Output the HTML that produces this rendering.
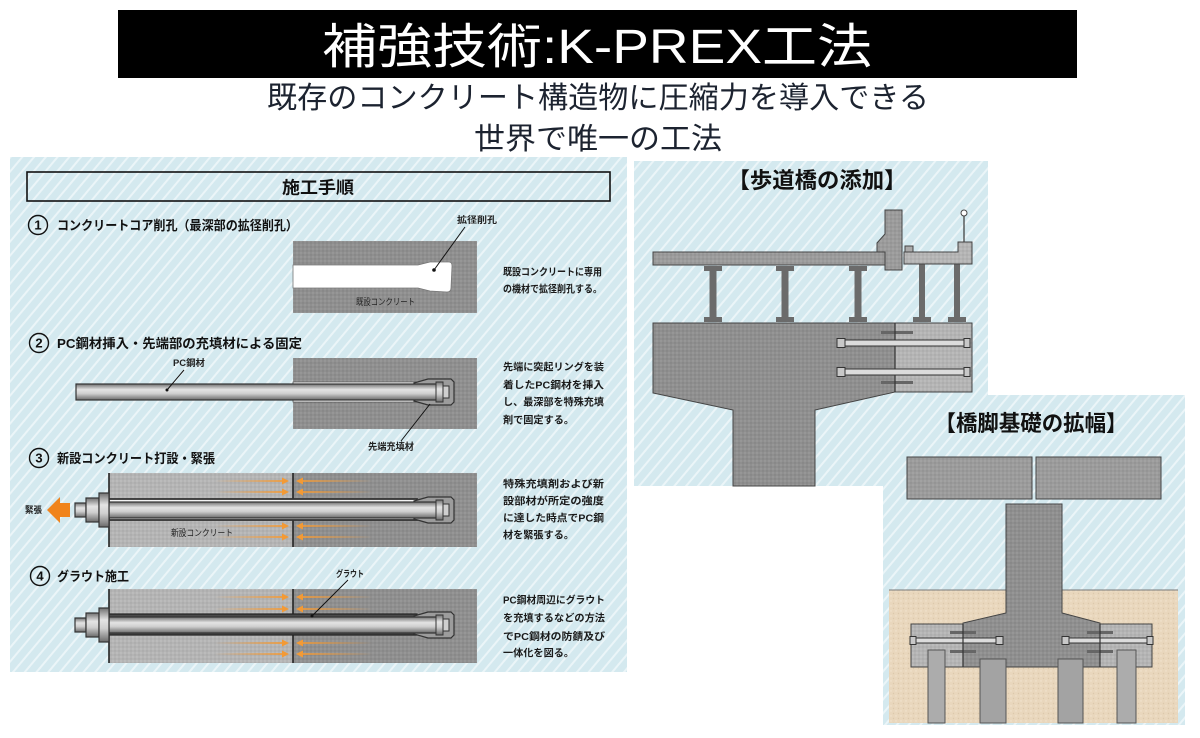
<!DOCTYPE html>
<html><head><meta charset="utf-8">
<style>
html,body{margin:0;padding:0;background:#fff;}
svg{display:block;}
text{font-family:"Liberation Sans","Noto Sans CJK JP",sans-serif;}
</style></head>
<body>
<svg width="1200" height="738" viewBox="0 0 1200 738" xmlns="http://www.w3.org/2000/svg">
<defs>
  <pattern id="st" width="9" height="9" patternUnits="userSpaceOnUse" patternTransform="rotate(40)">
    <rect width="9" height="9" fill="#d4e9ef"/>
    <rect x="0" width="2" height="9" fill="#ebf5f8"/>
  </pattern>
  <pattern id="pd" width="4" height="4" patternUnits="userSpaceOnUse">
    <rect width="4" height="4" fill="#8f8f8f"/>
    <circle cx="1" cy="1" r="0.7" fill="#a2a2a2"/>
    <circle cx="3" cy="3" r="0.7" fill="#7f7f7f"/>
  </pattern>
  <pattern id="pl" width="4" height="4" patternUnits="userSpaceOnUse">
    <rect width="4" height="4" fill="#b4b4b4"/>
    <circle cx="1" cy="1" r="0.7" fill="#c6c6c6"/>
    <circle cx="3" cy="3" r="0.7" fill="#a4a4a4"/>
  </pattern>
  <pattern id="pm" width="4" height="4" patternUnits="userSpaceOnUse">
    <rect width="4" height="4" fill="#9b9b9b"/>
    <circle cx="1" cy="1" r="0.7" fill="#adadad"/>
    <circle cx="3" cy="3" r="0.7" fill="#8b8b8b"/>
  </pattern>
  <pattern id="ps" width="5" height="5" patternUnits="userSpaceOnUse">
    <rect width="5" height="5" fill="#e9d7bd"/>
    <circle cx="1" cy="1" r="0.7" fill="#f3e6d2"/>
    <circle cx="3.5" cy="3.5" r="0.7" fill="#dcc8ab"/>
  </pattern>
  <linearGradient id="rod" x1="0" y1="0" x2="0" y2="1">
    <stop offset="0" stop-color="#707070"/>
    <stop offset="0.35" stop-color="#e4e4e4"/>
    <stop offset="0.6" stop-color="#cfcfcf"/>
    <stop offset="1" stop-color="#6a6a6a"/>
  </linearGradient>
  <linearGradient id="arR" gradientUnits="userSpaceOnUse" x1="215" y1="0" x2="288" y2="0">
    <stop offset="0" stop-color="#f39a35" stop-opacity="0"/>
    <stop offset="1" stop-color="#f39a35" stop-opacity="1"/>
  </linearGradient>
  <linearGradient id="arL" gradientUnits="userSpaceOnUse" x1="372" y1="0" x2="297" y2="0">
    <stop offset="0" stop-color="#f39a35" stop-opacity="0"/>
    <stop offset="1" stop-color="#f39a35" stop-opacity="1"/>
  </linearGradient>
  <g id="rodend">
    <polygon points="414,-9 428,-13 451,-13 454,-10 454,10 451,13 428,13 414,9" fill="#9c9c9c" stroke="#333" stroke-width="1.2"/>
    <rect x="436" y="-10" width="7" height="20" fill="url(#rod)" stroke="#333" stroke-width="1"/>
    <rect x="443" y="-6" width="6" height="12" fill="#cfcfcf" stroke="#333" stroke-width="1"/>
  </g>
  <g id="anchor">
    <rect x="75" y="-7" width="11" height="14" fill="url(#rod)" stroke="#333" stroke-width="1.2"/>
    <rect x="86" y="-12" width="13" height="24" fill="url(#rod)" stroke="#333" stroke-width="1.2"/>
    <rect x="99" y="-17" width="10" height="34" fill="url(#rod)" stroke="#333" stroke-width="1.2"/>
  </g>
  <g id="arrows2">
    <line x1="215" y1="0" x2="284" y2="0" stroke="url(#arR)" stroke-width="1.8"/>
    <polygon points="289,0 282,-3.5 282,3.5" fill="#f39a35"/>
    <line x1="372" y1="0" x2="301" y2="0" stroke="url(#arL)" stroke-width="1.8"/>
    <polygon points="296,0 303,-3.5 303,3.5" fill="#f39a35"/>
  </g>
  <g id="hrod">
    <rect x="-3" y="-3" width="130" height="6" fill="#dcdcdc" stroke="#333" stroke-width="1"/>
    <rect x="-4" y="-4.5" width="8" height="9" fill="#c8c8c8" stroke="#333" stroke-width="1"/>
    <rect x="123" y="-4.5" width="6" height="9" fill="#c8c8c8" stroke="#333" stroke-width="1"/>
  </g>
</defs>

<!-- ===== Title ===== -->
<rect x="118" y="10" width="959" height="68" fill="#000"/>
<text x="597" y="63" text-anchor="middle" font-size="48" fill="#fff" textLength="550" lengthAdjust="spacingAndGlyphs">補強技術:K-PREX工法</text>
<text x="598" y="108" text-anchor="middle" font-size="30" fill="#1c2330" textLength="662" lengthAdjust="spacingAndGlyphs">既存のコンクリート構造物に圧縮力を導入できる</text>
<text x="598" y="149" text-anchor="middle" font-size="30" fill="#1c2330" textLength="248" lengthAdjust="spacingAndGlyphs">世界で唯一の工法</text>

<!-- ===== Left panel ===== -->
<rect x="10" y="157" width="617" height="515" fill="url(#st)"/>
<rect x="27" y="172" width="583" height="29" fill="none" stroke="#111" stroke-width="1.6"/>
<text x="318" y="193.5" text-anchor="middle" font-size="17" font-weight="700" fill="#111" textLength="72" lengthAdjust="spacingAndGlyphs">施工手順</text>

<!-- step titles -->
<g fill="none" stroke="#111" stroke-width="1.4">
  <circle cx="38" cy="225" r="9.5"/>
  <circle cx="39" cy="343" r="9.5"/>
  <circle cx="39" cy="458" r="9.5"/>
  <circle cx="40" cy="576" r="9.5"/>
</g>
<g font-size="13" font-weight="700" fill="#111" text-anchor="middle">
  <text x="38" y="229.5">1</text>
  <text x="39" y="347.5">2</text>
  <text x="39" y="462.5">3</text>
  <text x="40" y="580.5">4</text>
</g>
<g font-size="13" font-weight="700" fill="#111">
  <text x="57" y="230" textLength="241" lengthAdjust="spacingAndGlyphs">コンクリートコア削孔（最深部の拡径削孔）</text>
  <text x="57" y="348" textLength="245" lengthAdjust="spacingAndGlyphs">PC鋼材挿入・先端部の充填材による固定</text>
  <text x="57" y="463" textLength="158" lengthAdjust="spacingAndGlyphs">新設コンクリート打設・緊張</text>
  <text x="57" y="581" textLength="72" lengthAdjust="spacingAndGlyphs">グラウト施工</text>
</g>

<!-- right-side descriptions -->
<g font-size="10" font-weight="700" fill="#1a1a1a">
  <text x="503" y="275.5" textLength="99" lengthAdjust="spacingAndGlyphs">既設コンクリートに専用</text>
  <text x="503" y="292.5" textLength="99" lengthAdjust="spacingAndGlyphs">の機材で拡径削孔する。</text>

  <text x="503" y="370.5" textLength="101" lengthAdjust="spacingAndGlyphs">先端に突起リングを装</text>
  <text x="503" y="388.5" textLength="101" lengthAdjust="spacingAndGlyphs">着したPC鋼材を挿入</text>
  <text x="503" y="405.5" textLength="101" lengthAdjust="spacingAndGlyphs">し、最深部を特殊充填</text>
  <text x="503" y="423.5" textLength="71" lengthAdjust="spacingAndGlyphs">剤で固定する。</text>

  <text x="503" y="487.5" textLength="101" lengthAdjust="spacingAndGlyphs">特殊充填剤および新</text>
  <text x="503" y="504.5" textLength="101" lengthAdjust="spacingAndGlyphs">設部材が所定の強度</text>
  <text x="503" y="521.5" textLength="101" lengthAdjust="spacingAndGlyphs">に達した時点でPC鋼</text>
  <text x="503" y="538.5" textLength="71" lengthAdjust="spacingAndGlyphs">材を緊張する。</text>

  <text x="503" y="603.5" textLength="102" lengthAdjust="spacingAndGlyphs">PC鋼材周辺にグラウト</text>
  <text x="503" y="621.5" textLength="102" lengthAdjust="spacingAndGlyphs">を充填するなどの方法</text>
  <text x="503" y="640" textLength="102" lengthAdjust="spacingAndGlyphs">でPC鋼材の防錆及び</text>
  <text x="503" y="656.5" textLength="71" lengthAdjust="spacingAndGlyphs">一体化を図る。</text>
</g>

<!-- Step 1 diagram -->
<rect x="293" y="241" width="184" height="72" fill="url(#pd)"/>
<path d="M293,265 L418,265 L430,262 L449,262 Q452,262 452,266 L451,288 Q451,292 447,292 L430,291 L418,288 L293,288 Z" fill="#fff" stroke="#777" stroke-width="0.8"/>
<line x1="465" y1="227" x2="434" y2="270" stroke="#111" stroke-width="1"/>
<circle cx="434" cy="270" r="1.8" fill="#111"/>
<text x="457" y="223" font-size="9" font-weight="700" fill="#222" textLength="40" lengthAdjust="spacingAndGlyphs">拡径削孔</text>
<text x="356" y="305" font-size="9" fill="#222" textLength="59" lengthAdjust="spacingAndGlyphs">既設コンクリート</text>

<!-- Step 2 diagram -->
<rect x="293" y="358" width="184" height="71" fill="url(#pd)"/>
<g transform="translate(0,392)">
  <rect x="293" y="-10" width="124" height="20" fill="#fafafa" stroke="#555" stroke-width="0.8"/>
  <use href="#rodend"/>
  <rect x="76" y="-8" width="362" height="16" fill="url(#rod)" stroke="#333" stroke-width="1.2"/>
  <rect x="436" y="-10" width="7" height="20" fill="url(#rod)" stroke="#333" stroke-width="1"/>
  <rect x="443" y="-6" width="6" height="12" fill="#cfcfcf" stroke="#333" stroke-width="1"/>
</g>
<text x="173" y="366" font-size="9" font-weight="700" fill="#222" textLength="32" lengthAdjust="spacingAndGlyphs">PC鋼材</text>
<line x1="184" y1="370" x2="167" y2="390" stroke="#111" stroke-width="1"/>
<circle cx="167" cy="390" r="1.5" fill="#111"/>
<text x="368" y="450" font-size="9.5" font-weight="700" fill="#222" textLength="46" lengthAdjust="spacingAndGlyphs">先端充填材</text>
<line x1="401" y1="441" x2="430" y2="404" stroke="#111" stroke-width="1"/>

<!-- Step 3 diagram -->
<rect x="109" y="473" width="184" height="74" fill="url(#pl)"/>
<rect x="293" y="473" width="184" height="74" fill="url(#pd)"/>
<line x1="109" y1="473" x2="109" y2="547" stroke="#222" stroke-width="1.6"/>
<line x1="293" y1="473" x2="293" y2="547" stroke="#222" stroke-width="1.6"/>
<g transform="translate(0,481)"><use href="#arrows2"/></g>
<g transform="translate(0,492)"><use href="#arrows2"/></g>
<g transform="translate(0,526)"><use href="#arrows2"/></g>
<g transform="translate(0,537)"><use href="#arrows2"/></g>
<g transform="translate(0,510)">
  <rect x="109" y="-11" width="308" height="21" fill="#f4f4f4" stroke="#333" stroke-width="1.8"/>
  <use href="#rodend"/>
  <rect x="109" y="-8" width="329" height="16" fill="url(#rod)" stroke="#333" stroke-width="1.2"/>
  <rect x="436" y="-10" width="7" height="20" fill="url(#rod)" stroke="#333" stroke-width="1"/>
  <rect x="443" y="-6" width="6" height="12" fill="#cfcfcf" stroke="#333" stroke-width="1"/>
  <use href="#anchor"/>
</g>
<polygon points="47,510 60,497 60,503 70,503 70,517 60,517 60,523" fill="#f0841c"/>
<text x="25" y="513" font-size="9" font-weight="700" fill="#222" textLength="17" lengthAdjust="spacingAndGlyphs">緊張</text>
<text x="171" y="536" font-size="9" fill="#222" textLength="62" lengthAdjust="spacingAndGlyphs">新設コンクリート</text>

<!-- Step 4 diagram -->
<rect x="109" y="589" width="184" height="74" fill="url(#pl)"/>
<rect x="293" y="589" width="184" height="74" fill="url(#pd)"/>
<line x1="109" y1="589" x2="109" y2="663" stroke="#222" stroke-width="1.6"/>
<line x1="293" y1="589" x2="293" y2="663" stroke="#222" stroke-width="1.6"/>
<g transform="translate(0,597)"><use href="#arrows2"/></g>
<g transform="translate(0,609)"><use href="#arrows2"/></g>
<g transform="translate(0,643)"><use href="#arrows2"/></g>
<g transform="translate(0,654)"><use href="#arrows2"/></g>
<g transform="translate(0,625)">
  <rect x="109" y="-11" width="308" height="21" fill="#4a4a4a" stroke="#222" stroke-width="1.2"/>
  <use href="#rodend"/>
  <rect x="109" y="-8" width="329" height="16" fill="url(#rod)" stroke="#333" stroke-width="1.2"/>
  <rect x="436" y="-10" width="7" height="20" fill="url(#rod)" stroke="#333" stroke-width="1"/>
  <rect x="443" y="-6" width="6" height="12" fill="#cfcfcf" stroke="#333" stroke-width="1"/>
  <use href="#anchor"/>
</g>
<text x="336" y="577" font-size="9" font-weight="700" fill="#222" textLength="28" lengthAdjust="spacingAndGlyphs">グラウト</text>
<line x1="348" y1="580" x2="312" y2="616" stroke="#111" stroke-width="1"/>
<circle cx="312" cy="616" r="1.5" fill="#111"/>

<!-- ===== Top-right panel: 歩道橋の添加 ===== -->
<rect x="634" y="161" width="354" height="325" fill="url(#st)"/>
<text x="817" y="188" text-anchor="middle" font-size="22" font-weight="700" fill="#111" textLength="179" lengthAdjust="spacingAndGlyphs">【歩道橋の添加】</text>
<!-- girders -->
<g fill="#6b6b6b">
  <rect x="704" y="266" width="18" height="5"/><rect x="709.5" y="271" width="7" height="46"/><rect x="704" y="317" width="18" height="5"/>
  <rect x="776" y="266" width="18" height="5"/><rect x="781.5" y="271" width="7" height="46"/><rect x="776" y="317" width="18" height="5"/>
  <rect x="849" y="266" width="18" height="5"/><rect x="854.5" y="271" width="7" height="46"/><rect x="849" y="317" width="18" height="5"/>
  <rect x="919" y="264" width="6" height="53"/><rect x="913" y="317" width="18" height="5"/>
  <rect x="954" y="264" width="6" height="53"/><rect x="948" y="317" width="18" height="5"/>
</g>
<rect x="653" y="252" width="237" height="13" fill="url(#pm)" stroke="#444" stroke-width="1"/>
<polygon points="885,210 902,210 902,270 885,270 885,265 885,252 877,252 877,243 885,234" fill="url(#pm)" stroke="#444" stroke-width="1"/>
<rect x="905" y="246" width="8" height="6" fill="#aaa" stroke="#444" stroke-width="1"/>
<polygon points="904,252 958,252 958,242 972,242 972,264 904,264" fill="url(#pl)" stroke="#444" stroke-width="1"/>
<line x1="964" y1="216" x2="964" y2="242" stroke="#444" stroke-width="1.3"/>
<circle cx="964" cy="213" r="3" fill="#fff" stroke="#444" stroke-width="1"/>
<!-- pier -->
<polygon points="653,323 895,323 895,392 815,410 815,486 733,486 733,410 653,393" fill="url(#pd)" stroke="#444" stroke-width="1"/>
<rect x="895" y="323" width="77" height="69" fill="url(#pl)" stroke="#444" stroke-width="1"/>
<rect x="881" y="331" width="32" height="3" fill="#666"/>
<rect x="881" y="381" width="32" height="3" fill="#666"/>
<line x1="895" y1="323" x2="895" y2="392" stroke="#333" stroke-width="1.2"/>
<g transform="translate(841,343)"><use href="#hrod"/></g>
<g transform="translate(841,372)"><use href="#hrod"/></g>

<!-- ===== Bottom-right panel: 橋脚基礎の拡幅 ===== -->
<rect x="883" y="395" width="302" height="330" fill="url(#st)"/>
<text x="1031" y="431" text-anchor="middle" font-size="22" font-weight="700" fill="#111" textLength="193" lengthAdjust="spacingAndGlyphs">【橋脚基礎の拡幅】</text>
<rect x="907" y="457" width="125" height="42" fill="url(#pm)" stroke="#444" stroke-width="1"/>
<rect x="1036" y="457" width="125" height="42" fill="url(#pm)" stroke="#444" stroke-width="1"/>
<rect x="889" y="590" width="289" height="133" fill="url(#ps)"/>
<line x1="889" y1="590" x2="1178" y2="590" stroke="#777" stroke-width="1"/>
<polygon points="1006,504 1062,504 1062,613 1100,623 1100,667 963,667 963,623 1006,613" fill="url(#pd)" stroke="#444" stroke-width="1"/>
<rect x="911" y="624" width="52" height="43" fill="url(#pl)" stroke="#444" stroke-width="1"/>
<rect x="1100" y="624" width="52" height="43" fill="url(#pl)" stroke="#444" stroke-width="1"/>
<g fill="#666">
  <rect x="950" y="631" width="26" height="3"/><rect x="950" y="650" width="26" height="3"/>
  <rect x="1087" y="631" width="26" height="3"/><rect x="1087" y="650" width="26" height="3"/>
</g>
<g stroke="#333" stroke-width="1">
  <rect x="913" y="638" width="86" height="5" fill="#dcdcdc"/>
  <rect x="910" y="636.5" width="6" height="8" fill="#c8c8c8"/>
  <rect x="996" y="636.5" width="7" height="8" fill="#c8c8c8"/>
  <rect x="1065" y="638" width="86" height="5" fill="#dcdcdc"/>
  <rect x="1062" y="636.5" width="7" height="8" fill="#c8c8c8"/>
  <rect x="1147" y="636.5" width="6" height="8" fill="#c8c8c8"/>
</g>
<line x1="963" y1="624" x2="963" y2="667" stroke="#333" stroke-width="1.2"/>
<line x1="1100" y1="624" x2="1100" y2="667" stroke="#333" stroke-width="1.2"/>
<g stroke="#555" stroke-width="1">
  <rect x="928" y="650" width="17" height="73" fill="#acacac"/>
  <rect x="980" y="659" width="26" height="64" fill="#a3a3a3"/>
  <rect x="1058" y="659" width="25" height="64" fill="#a3a3a3"/>
  <rect x="1117" y="650" width="19" height="73" fill="#acacac"/>
</g>
</svg>
</body></html>
